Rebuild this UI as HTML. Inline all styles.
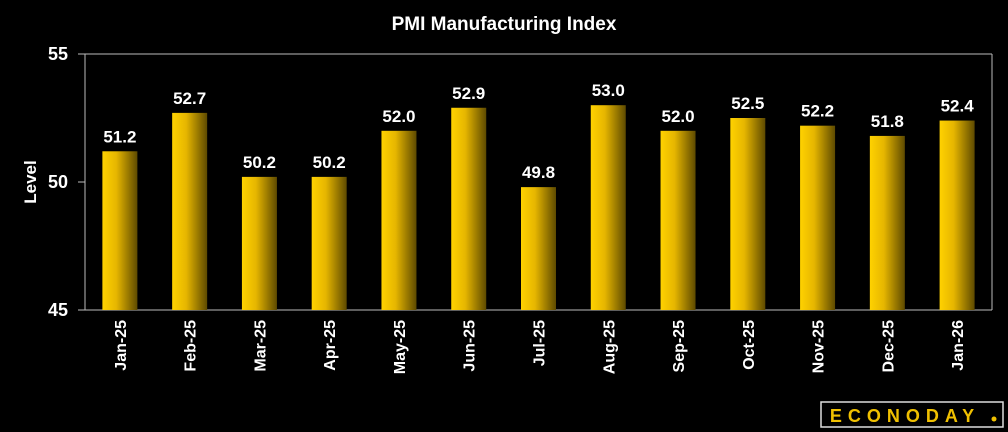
<!DOCTYPE html>
<html><head><meta charset="utf-8"><style>
body{margin:0;background:#000;}
svg{display:block;font-family:"Liberation Sans",sans-serif;font-weight:bold;}
</style></head><body>
<svg width="1008" height="432">
<defs><linearGradient id="g" x1="0" x2="1" y1="0" y2="0">
<stop offset="0" stop-color="#ffd200"/><stop offset="0.4" stop-color="#e6b600"/><stop offset="1" stop-color="#5e4a00"/></linearGradient></defs>
<text x="504" y="30" fill="#fff" font-size="19" text-anchor="middle">PMI Manufacturing Index</text>
<text transform="translate(36,182) rotate(-90)" fill="#fff" font-size="17" text-anchor="middle">Level</text>
<g id="plot"></g>
<g>
<rect x="821" y="402" width="182" height="25" fill="#000" stroke="#ddd" stroke-width="1.5"/>
<text x="905" y="422" fill="#f0c000" font-size="18" text-anchor="middle" letter-spacing="6">ECONODAY</text>
<circle cx="994" cy="419" r="2.5" fill="#f0c000"/>
</g>
</svg>
<script>
const categories=["Jan-25","Feb-25","Mar-25","Apr-25","May-25","Jun-25","Jul-25","Aug-25","Sep-25","Oct-25","Nov-25","Dec-25","Jan-26"];
const values=[51.2,52.7,50.2,50.2,52.0,52.9,49.8,53.0,52.0,52.5,52.2,51.8,52.4];
const ticks=[45,50,55];
const NS="http://www.w3.org/2000/svg";
const L=85,R=992,T=54,B=310,ymin=45,ymax=55;
const y=v=>B-(v-ymin)/(ymax-ymin)*(B-T);
const bw=(R-L)/categories.length;
const x=i=>L+bw*(i+0.5);
const g=document.getElementById('plot');
function mk(t,a){const e=document.createElementNS(NS,t);for(const k in a)e.setAttribute(k,a[k]);g.appendChild(e);return e;}
let e=mk('line',{x1:L,x2:R,y1:T,y2:T,stroke:'#bbb'});


e=mk('line',{x1:R,x2:R,y1:T,y2:B,stroke:'#bbb'});


e=mk('line',{x1:L,x2:L,y1:T,y2:B,stroke:'#bbb'});


e=mk('line',{x1:L,x2:R,y1:B,y2:B,stroke:'#bbb'});


ticks.forEach(t=>{
 let l=mk('line',{x1:L-7,x2:L,y1:y(t),y2:y(t),stroke:'#bbb'});
 
 
 let tx=mk('text',{x:L-17,y:y(t)+6,fill:'#fff','font-size':18,'text-anchor':'end'});
 tx.textContent=t;
 
 
});
categories.forEach((c,i)=>{
 const v=values[i];
 let r=mk('rect',{x:x(i)-17.5,y:y(v),width:35,height:B-y(v),fill:'url(#g)'});
 
 
 let t=mk('text',{x:x(i),y:y(v)-9,fill:'#fff','font-size':17,'text-anchor':'middle'});
 t.textContent=v.toFixed(1);
 
 
 let l=mk('text',{transform:`translate(${x(i)+6},${B+10}) rotate(-90)`,fill:'#fff','font-size':16,'text-anchor':'end'});
 l.textContent=c;
 
 
});
</script>
</body></html>
